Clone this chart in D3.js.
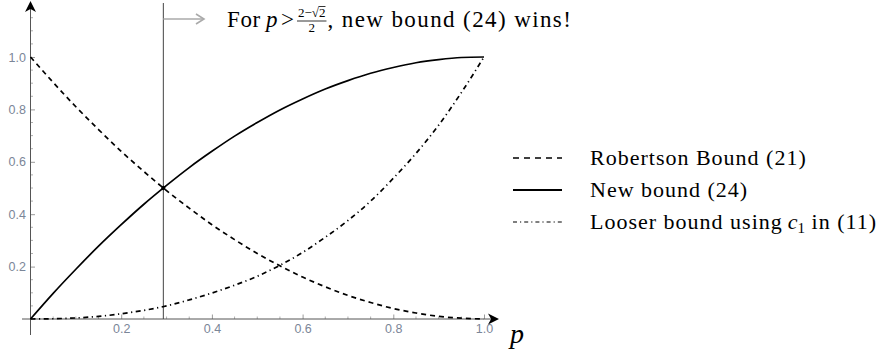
<!DOCTYPE html>
<html>
<head>
<meta charset="utf-8">
<script src="https://cdn.jsdelivr.net/npm/d3@7"></script>
<style>
  body { margin: 0; background: #fff; }
  svg { display: block; }
</style>
</head>
<body>
<script>
// Chart values
const pValues = [0, 0.05, 0.1, 0.15, 0.2, 0.25, 0.3, 0.35, 0.4, 0.45, 0.5,
                 0.55, 0.6, 0.65, 0.7, 0.75, 0.8, 0.85, 0.9, 0.95, 1.0];
const robertson = [1.0, 0.903, 0.81, 0.723, 0.64, 0.563, 0.49, 0.423, 0.36, 0.303, 0.25,
                   0.203, 0.16, 0.123, 0.09, 0.063, 0.04, 0.023, 0.01, 0.003, 0];
const newBound = [0, 0.098, 0.19, 0.278, 0.36, 0.438, 0.51, 0.578, 0.64, 0.698, 0.75,
                  0.798, 0.84, 0.878, 0.91, 0.938, 0.96, 0.978, 0.99, 0.998, 1.0];
const looser = [0, 0.001, 0.004, 0.01, 0.02, 0.033, 0.05, 0.073, 0.099, 0.129, 0.163,
                0.205, 0.254, 0.312, 0.376, 0.45, 0.537, 0.632, 0.74, 0.864, 1.0];
const crossP = 0.2929;   // (2 - sqrt 2) / 2
const crossV = 0.5;

const xTicks = [0.2, 0.4, 0.6, 0.8, 1.0];
const yTicks = [0.2, 0.4, 0.6, 0.8, 1.0];
const xMinor = [0.05, 0.1, 0.15, 0.25, 0.3, 0.35, 0.45, 0.5, 0.55, 0.65, 0.7, 0.75, 0.85, 0.9, 0.95];
const yMinor = [0.05, 0.1, 0.15, 0.25, 0.3, 0.35, 0.45, 0.5, 0.55, 0.65, 0.7, 0.75, 0.85, 0.9, 0.95, 1.05, 1.1, 1.15];

const legendLabels = ["Robertson Bound (21)", "New bound (24)", "Looser bound using"];

const width = 883, height = 354;
const svg = d3.select("body").append("svg")
    .attr("width", width)
    .attr("height", height);

const x = d3.scaleLinear().domain([0, 1]).range([30.5, 484]);
const y = d3.scaleLinear().domain([0, 1]).range([319, 57]);

const tickColor = "#9a9a9a";
const labelColor = "#7b8698";
const serif = "'Liberation Serif', 'DejaVu Serif', serif";
const textSize = 22;
const spacing = 1.0;   // Computer Modern sets wider than Times

// minor ticks
svg.append("g").selectAll("line").data(xMinor).join("line")
    .attr("x1", d => x(d)).attr("x2", d => x(d))
    .attr("y1", y(0)).attr("y2", y(0) - 2.5)
    .attr("stroke", tickColor).attr("stroke-width", 0.8);
svg.append("g").selectAll("line").data(yMinor).join("line")
    .attr("x1", x(0)).attr("x2", x(0) + 2.5)
    .attr("y1", d => y(d)).attr("y2", d => y(d))
    .attr("stroke", tickColor).attr("stroke-width", 0.8);

// major ticks + labels
const xAxis = svg.append("g")
    .attr("transform", `translate(0,${y(0)})`)
    .call(d3.axisBottom(x).tickValues(xTicks).tickSizeInner(-4.5).tickSizeOuter(0)
        .tickPadding(5).tickFormat(d3.format(".1f")));
const yAxis = svg.append("g")
    .attr("transform", `translate(${x(0)},0)`)
    .call(d3.axisLeft(y).tickValues(yTicks).tickSizeInner(-4.5).tickSizeOuter(0)
        .tickPadding(4.5).tickFormat(d3.format(".1f")));
[xAxis, yAxis].forEach(g => {
    g.select(".domain").remove();
    g.selectAll(".tick line").attr("stroke", tickColor);
    g.selectAll(".tick text")
        .attr("fill", labelColor)
        .style("font-family", "'Liberation Sans', Arial, sans-serif")
        .style("font-size", "12.5px");
});

// axis lines with arrowheads
const axisColor = "#555";
svg.append("line")
    .attr("x1", 22).attr("x2", 494)
    .attr("y1", y(0)).attr("y2", y(0))
    .attr("stroke", axisColor).attr("stroke-width", 1);
svg.append("line")
    .attr("x1", x(0)).attr("x2", x(0))
    .attr("y1", 335).attr("y2", 6)
    .attr("stroke", axisColor).attr("stroke-width", 1);

function arrowHead(tipX, tipY, angle, size, color) {
    svg.append("path")
        .attr("d", `M0,0 L${-size},${-size * 0.5} L${-size * 0.72},0 L${-size},${size * 0.5} Z`)
        .attr("transform", `translate(${tipX},${tipY}) rotate(${angle})`)
        .attr("fill", color);
}
arrowHead(499, y(0), 0, 11, "#000");
arrowHead(x(0), 1, -90, 11, "#000");

// vertical line at the crossing
svg.append("line")
    .attr("x1", x(crossP)).attr("x2", x(crossP))
    .attr("y1", 3).attr("y2", y(0))
    .attr("stroke", "#444").attr("stroke-width", 1);

// curves
const line = d3.line()
    .x((d, i) => x(pValues[i]))
    .y(d => y(d))
    .curve(d3.curveMonotoneX);

const series = [
    { values: robertson, dash: "5,4", width: 1.7 },
    { values: newBound, dash: null, width: 1.7 },
    { values: looser, dash: "5,3.5,1.2,3.5", width: 1.7 }
];
series.forEach(s => {
    svg.append("path")
        .attr("d", line(s.values))
        .attr("fill", "none")
        .attr("stroke", "#000")
        .attr("stroke-width", s.width)
        .attr("stroke-dasharray", s.dash);
});

svg.append("circle")
    .attr("cx", x(crossP)).attr("cy", y(crossV))
    .attr("r", 2.2).attr("fill", "#000");

// axis label p
svg.append("text")
    .attr("x", 510).attr("y", 343)
    .style("font-family", serif)
    .style("font-style", "italic")
    .style("font-size", "28px")
    .text("p");

// text helper, returns the width it took
function addText(str, italic, size, px, py, ls) {
    const t = svg.append("text")
        .attr("x", px).attr("y", py)
        .style("font-family", serif)
        .style("font-size", size + "px")
        .style("font-style", italic ? "italic" : "normal")
        .style("letter-spacing", (ls || 0) + "px")
        .text(str);
    return t.node().getComputedTextLength();
}

// annotation: gray arrow + text
const annY = 19;
svg.append("line")
    .attr("x1", x(crossP)).attr("x2", 203)
    .attr("y1", annY).attr("y2", annY)
    .attr("stroke", "#aaa").attr("stroke-width", 1.6);
svg.append("path")
    .attr("d", `M196,${annY - 5} L204,${annY} L196,${annY + 5}`)
    .attr("fill", "none").attr("stroke", "#aaa").attr("stroke-width", 1.6);

const base = 27;
const annSize = 23;
addText("For", false, annSize, 227, base, 0.6);
addText("p", true, annSize, 266, base, 0);
addText(">", false, annSize, 281, base, 0);

// fraction (2 - sqrt2)/2
const fracSize = 13;
const fracX = 298;
const numW = addText("2\u2212\u221a2", false, fracSize, fracX, 17, 0);
const lastW = fracSize * 0.5;
svg.append("line")
    .attr("x1", fracX + numW - lastW - 0.5).attr("x2", fracX + numW)
    .attr("y1", 6.5).attr("y2", 6.5)
    .attr("stroke", "#000").attr("stroke-width", 0.8);
svg.append("line")
    .attr("x1", fracX - 1).attr("x2", fracX + numW + 1)
    .attr("y1", 21).attr("y2", 21)
    .attr("stroke", "#000").attr("stroke-width", 0.8);
svg.append("text")
    .attr("x", fracX + numW / 2).attr("y", 32)
    .attr("text-anchor", "middle")
    .style("font-family", serif)
    .style("font-size", fracSize + "px")
    .text("2");
addText(", new bound (24) wins!", false, annSize, fracX + numW + 2, base, 1.4);

// legend
const legendX = 513, legendY = [158, 190, 222];
const legendDash = ["6,5", null, "4,3,1.2,3"];
const legendWidth = [1.4, 1.8, 1.1];
legendLabels.forEach((lab, i) => {
    svg.append("line")
        .attr("x1", legendX).attr("x2", legendX + 49)
        .attr("y1", legendY[i]).attr("y2", legendY[i])
        .attr("stroke", "#000")
        .attr("stroke-width", legendWidth[i])
        .attr("stroke-dasharray", legendDash[i]);
    let cx = 590;
    cx += addText(lab, false, textSize, cx, legendY[i] + 7, spacing);
    if (i === 2) {
        cx += 5;
        cx += addText("c", true, textSize, cx, legendY[i] + 7, 0);
        cx += addText("1", false, 15, cx, legendY[i] + 11, 0);
        addText("\u00a0in (11)", false, textSize, cx, legendY[i] + 7, spacing);
    }
});
</script>
</body>
</html>
